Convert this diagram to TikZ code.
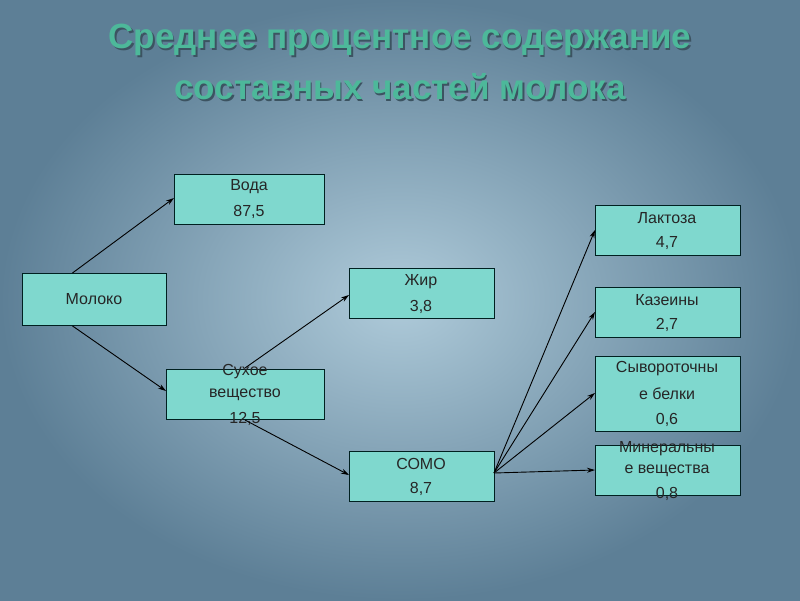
\documentclass[tikz,border=0pt]{standalone}
\usepackage{fontspec}
\setmainfont{Liberation Sans}
\usetikzlibrary{arrows.meta}
\definecolor{boxfill}{HTML}{7FD8CE}
\definecolor{titlec}{HTML}{4DB89A}
\definecolor{bgin}{HTML}{AFCBDA}
\definecolor{bgout}{HTML}{5D7F96}
\tikzset{
 box/.style={draw=black!75!teal,line width=0.9pt,fill=boxfill,anchor=north west,inner sep=0pt},
 lab/.style={font=\fontsize{16}{16}\selectfont,text=black!85},
 arr/.style={-{Stealth[length=8pt,width=5pt]},line width=0.9pt,black}
}
\begin{document}
\begin{tikzpicture}[x=1pt,y=-1pt]
\useasboundingbox (0,0) rectangle (800,600);
\shade[inner color=bgin,outer color=bgout] (0,0) rectangle (800,600);
\foreach \t/\yy in {{Среднее процентное содержание}/40,{составных частей молока}/87}{
 \node[font=\bfseries\fontsize{35}{35}\selectfont,text=black!35!bgout] at (401.5,\yy+1.5) {\t};
 \node[font=\bfseries\fontsize{35}{35}\selectfont,text=titlec] at (400,\yy) {\t};
}
\node[box,minimum width=144,minimum height=52] (mol) at (22,273) {};
\node[lab] at (94,299) {Молоко};
\node[box,minimum width=150,minimum height=50] (voda) at (174,174) {};
\node[lab] at (249,187) {Вода}; \node[lab] at (249,212) {87,5};
\node[box,minimum width=158,minimum height=50] (suh) at (166,369) {};
\node[lab] at (245,372) {Сухое}; \node[lab] at (245,395) {вещество}; \node[lab] at (245,419) {12,5};
\node[box,minimum width=145,minimum height=50] (zhir) at (349,268) {};
\node[lab] at (421,282) {Жир}; \node[lab] at (421,307) {3,8};
\node[box,minimum width=145,minimum height=50] (somo) at (349,451) {};
\node[lab] at (421,464) {СОМО}; \node[lab] at (421,489) {8,7};
\node[box,minimum width=145,minimum height=50] (lak) at (595,205) {};
\node[lab] at (667,218) {Лактоза}; \node[lab] at (667,243) {4,7};
\node[box,minimum width=145,minimum height=50] (kaz) at (595,287) {};
\node[lab] at (667,300) {Казеины}; \node[lab] at (667,325) {2,7};
\node[box,minimum width=145,minimum height=75] (syv) at (595,356) {};
\node[lab] at (667,369) {Сывороточны}; \node[lab] at (667,394) {е белки}; \node[lab] at (667,420) {0,6};
\node[box,minimum width=145,minimum height=50] (min) at (595,445) {};
\node[lab] at (667,449) {Минеральны}; \node[lab] at (667,471) {е вещества}; \node[lab] at (667,494) {0,8};
\coordinate (s1) at (245,368); \coordinate (s2) at (245,420); \coordinate (so) at (494,473);
\draw[arr] ([xshift=-22pt]mol.north) -- ([yshift=-24pt]voda.north west);
\draw[arr] ([xshift=-22pt]mol.south) -- ([yshift=-22pt]suh.north west);
\draw[arr] (s1) -- ([yshift=-27pt]zhir.north west);
\draw[arr] (s2) -- ([yshift=-24pt]somo.north west);
\draw[arr] (so) -- ([yshift=-25pt]lak.north west);
\draw[arr] (so) -- ([yshift=-25pt]kaz.north west);
\draw[arr] (so) -- ([yshift=-37pt]syv.north west);
\draw[arr] (so) -- ([yshift=-25pt]min.north west);
\end{tikzpicture}
\end{document}
